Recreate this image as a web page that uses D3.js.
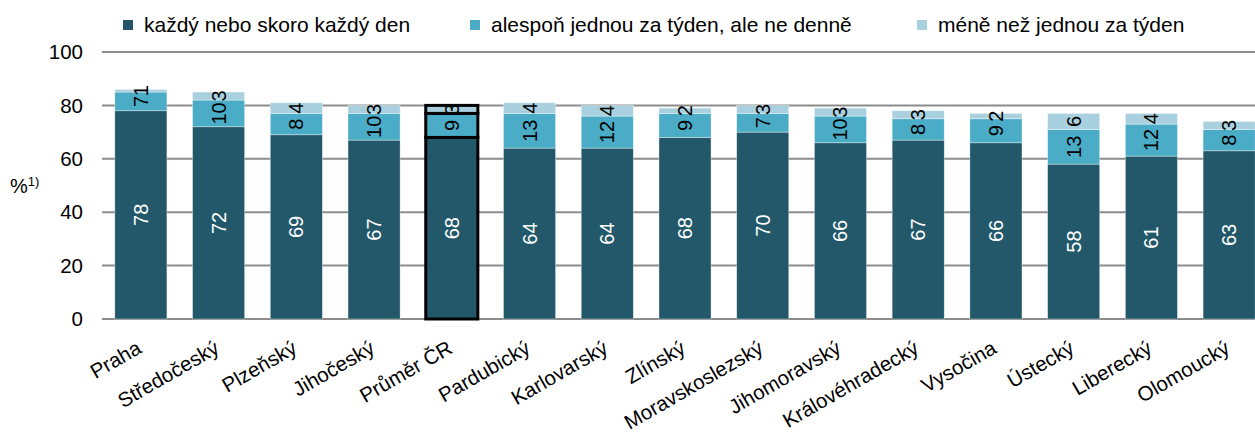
<!DOCTYPE html>
<html>
<head>
<meta charset="utf-8">
<script src="https://cdn.jsdelivr.net/npm/d3@7"></script>
<style>
  body { margin: 0; background: #fff; }
  svg { display: block; font-family: "Liberation Sans", Arial, sans-serif; }
</style>
</head>
<body>
<svg id="chart" width="1255" height="433"></svg>
<script>
// regions, sorted as in the source
const regions = ["Praha", "Středočeský", "Plzeňský", "Jihočeský", "Průměr ČR", "Pardubický",
  "Karlovarský", "Zlínský", "Moravskoslezský", "Jihomoravský", "Královéhradecký",
  "Vysočina", "Ústecký", "Liberecký", "Olomoucký"];
const daily = [78, 72, 69, 67, 68, 64, 64, 68, 70, 66, 67, 66, 58, 61, 63];
const weekly = [7, 10, 8, 10, 9, 13, 12, 9, 7, 10, 8, 9, 13, 12, 8];
const lessOften = [1, 3, 4, 3, 3, 4, 4, 2, 3, 3, 3, 2, 6, 4, 3];
const seriesNames = ["každý nebo skoro každý den", "alespoň jednou za týden, ale ne denně", "méně než jednou za týden"];
const yTicks = [0, 20, 40, 60, 80, 100];
const highlight = "Průměr ČR";

const colors = ["#22586a", "#4aacc7", "#a9d0de"];
const labelColors = ["#fff", "#000", "#000"];

const svg = d3.select("#chart");
const plotLeft = 102, plotRight = 1268, plotTop = 52, plotBottom = 319;

const x = d3.scaleBand().domain(regions).range([plotLeft, plotRight]).paddingInner(0.33).paddingOuter(0.165);
const y = d3.scaleLinear().domain([0, 100]).range([plotBottom, plotTop]);

// gridlines
svg.append("g").selectAll("line").data(yTicks).join("line")
  .attr("x1", plotLeft).attr("x2", 1255)
  .attr("y1", d => y(d)).attr("y2", d => y(d))
  .attr("stroke", "#8c8c8c").attr("stroke-width", 2);

// y labels
svg.append("g").selectAll("text").data(yTicks).join("text")
  .attr("x", 83).attr("y", d => y(d)).attr("dy", "0.35em")
  .attr("text-anchor", "end").attr("font-size", 20.5).attr("fill", "#000")
  .text(d => d);

const yt = svg.append("text").attr("x", 10).attr("y", 193).attr("font-size", 20);
yt.append("tspan").text("%");
yt.append("tspan").attr("font-size", 13).attr("dy", -7).text("1)");

// stack
const rows = regions.map((r, i) => ({ region: r, s0: daily[i], s1: weekly[i], s2: lessOften[i] }));
const stack = d3.stack().keys(["s0", "s1", "s2"])(rows);

const layers = svg.append("g").selectAll("g").data(stack).join("g")
  .attr("fill", (d, i) => colors[i]);

layers.selectAll("rect").data(d => d).join("rect")
  .attr("x", d => x(d.data.region))
  .attr("width", x.bandwidth())
  .attr("y", d => y(d[1]))
  .attr("height", d => y(d[0]) - y(d[1]))
  .attr("stroke", d => d.data.region === highlight ? "#000" : "rgba(255,255,255,0.5)")
  .attr("stroke-width", d => d.data.region === highlight ? 3 : 0.7);

// value labels, rotated
stack.forEach((layer, i) => {
  svg.append("g").selectAll("text").data(layer).join("text")
    .attr("transform", d => {
      const cx = x(d.data.region) + x.bandwidth() / 2;
      const cy = (y(d[0]) + y(d[1])) / 2;
      return `translate(${cx},${cy}) rotate(-90)`;
    })
    .attr("text-anchor", "middle").attr("dy", "0.35em")
    .attr("font-size", 20).attr("fill", labelColors[i])
    .text(d => d[1] - d[0]);
});

// x labels
svg.append("g").selectAll("text").data(regions).join("text")
  .attr("transform", r => `translate(${x(r) + x.bandwidth() / 2 + 2},${352}) rotate(-30)`)
  .attr("text-anchor", "end").attr("font-size", 20.5).attr("fill", "#000")
  .text(r => r);

// legend
const legendX = [123, 470, 917];
const lg = svg.append("g").selectAll("g").data(seriesNames).join("g")
  .attr("transform", (d, i) => `translate(${legendX[i]},25)`);
lg.append("rect").attr("x", 0).attr("y", -5).attr("width", 10).attr("height", 10)
  .attr("fill", (d, i) => colors[i]);
lg.append("text").attr("x", 21).attr("dy", "0.35em").attr("font-size", 21).text(d => d);
</script>
</body>
</html>
